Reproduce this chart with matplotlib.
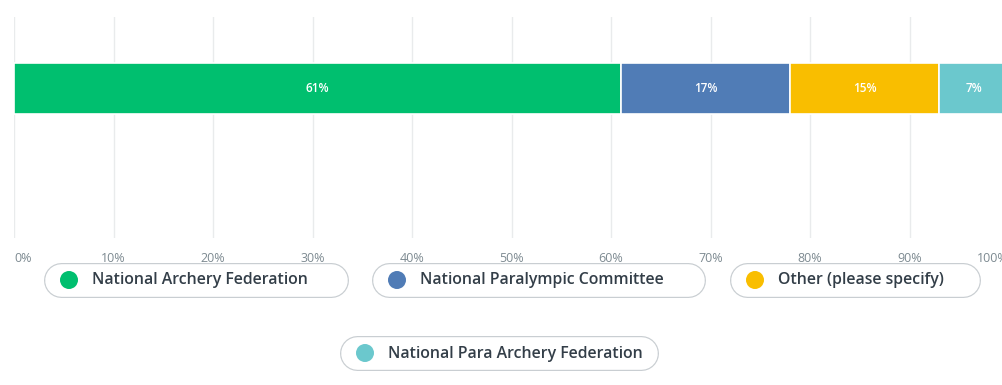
import matplotlib
matplotlib.use("Agg")
import matplotlib.pyplot as plt
from matplotlib.patches import Circle

categories = ["National Archery Federation", "National Paralympic Committee",
              "Other (please specify)", "National Para Archery Federation"]
shares = [61, 17, 15, 7]
colors = ["#00BF6F", "#507CB6", "#F9BE00", "#6BC8CD"]
tick_values = list(range(0, 101, 10))
tick_labels = [f"{v}%" for v in tick_values]

W, H = 1002, 385
fig = plt.figure(figsize=(W / 100, H / 100), dpi=100)
fig.patch.set_facecolor("white")

# main axis: 0% at x=14px, 100% at x=1009px (runs past the right edge)
ax = fig.add_axes([14 / W, (H - 238) / H, (1009 - 14) / W, 221 / H])
ax.set_xlim(0, 100)
ax.set_ylim(-0.6765, 0.3235)

left = 0
for val, col in zip(shares, colors):
    ax.barh(0, val, left=left, height=0.231, color=col,
            edgecolor="white", linewidth=1.2, zorder=3)
    ax.text(left + val / 2, 0, f"{val}%", ha="center", va="center",
            color="white", fontsize=8.5, fontweight="semibold",
            family="Open Sans", zorder=4)
    left += val

ax.set_xticks(tick_values)
ax.set_xticklabels(tick_labels)
ax.set_yticks([])
ax.grid(axis="x", color="#E9EBEC", linewidth=1, zorder=0)
ax.tick_params(axis="x", length=0, pad=10, labelsize=9, labelcolor="#7D8A91")
for lbl in ax.get_xticklabels():
    lbl.set_family("Open Sans")
ax.get_xticklabels()[0].set_horizontalalignment("left")
ax.get_xticklabels()[-1].set_horizontalalignment("right")
for s in ax.spines.values():
    s.set_visible(False)
ax.set_facecolor("none")

# legend pills drawn in pixel space on an overlay
lg = fig.add_axes([0, 0, 1, 1])
lg.set_xlim(0, W)
lg.set_ylim(H, 0)
lg.axis("off")
lg.patch.set_alpha(0)

pills = [
    (44, 349, 280),
    (372, 706, 280),
    (730, 981, 280),
    (340, 659, 353),
]
ph = 35                      # pill height in px
px2pt = 72 / 100
for (x0, x1, yc), name, col in zip(pills, categories, colors):
    r = ph / 2
    # border + fill as two round-capped strokes
    lg.plot([x0 + r, x1 - r], [yc, yc], color="#C9CED2",
            linewidth=ph * px2pt, solid_capstyle="round", zorder=1)
    lg.plot([x0 + r, x1 - r], [yc, yc], color="white",
            linewidth=(ph - 2.4) * px2pt, solid_capstyle="round", zorder=2)
    lg.add_patch(Circle((x0 + 25, yc), 9, facecolor=col, edgecolor="none",
                        zorder=3))
    lg.text(x0 + 48, yc + 0.5, name, ha="left", va="center", fontsize=11.4,
            fontweight="semibold", family="Open Sans", color="#333E48",
            zorder=4)

fig.savefig("out.png", dpi=100, facecolor="white")
